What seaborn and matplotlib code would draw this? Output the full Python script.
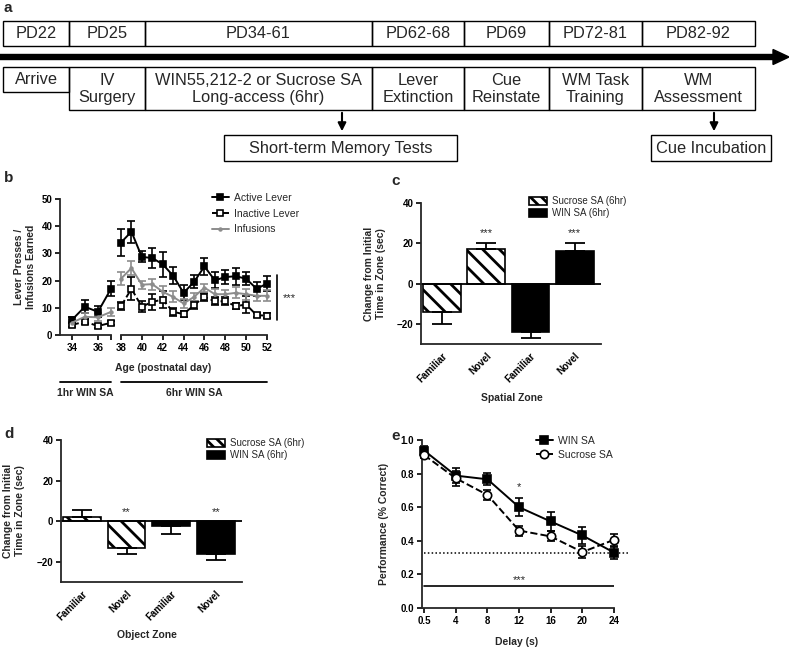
import numpy as np
import pandas as pd
import matplotlib
matplotlib.use('Agg')
import matplotlib.pyplot as plt
from matplotlib.patches import Rectangle, FancyArrow, Patch
import seaborn as sns

# ---- data ----
# a: timeline
stages_top = ['PD22', 'PD25', 'PD34-61', 'PD62-68', 'PD69', 'PD72-81', 'PD82-92']
stages_bottom = ['Arrive', 'IV\nSurgery', 'WIN55,212-2 or Sucrose SA\nLong-access (6hr)',
                 'Lever\nExtinction', 'Cue\nReinstate', 'WM Task\nTraining', 'WM\nAssessment']
box_edges = [3, 69, 145, 372, 464, 549, 642, 755]

# b: self-administration
days = list(range(34, 53))
active = [5.5, 10.4, 8.5, 17, 34, 38, 28.7, 28.3, 26, 21.8, 15.5, 19.5, 25.2, 20.1, 21.3, 21.6, 20.7, 17, 18.9]
active_err = [1, 2.4, 2, 2.7, 5, 4, 2, 3.6, 4.6, 3.2, 2.8, 2.4, 3, 3, 2.5, 3.2, 2.5, 2.5, 2.7]
inactive = [3.7, 4.9, 3.3, 4.5, 10.6, 17, 10.4, 12.2, 13, 8.5, 7.7, 11, 14, 12.4, 12.4, 10.6, 11.2, 7.3, 7.1]
inactive_err = [0.7, 0.8, 0.7, 0.7, 1.5, 4.3, 2, 3, 3, 1.5, 1, 1.5, 1.5, 1.5, 1.5, 1, 3, 0.7, 1]
infusions = [4.5, 6.7, 6.5, 8.5, 20.7, 24.6, 18.5, 18.7, 15.9, 14, 11.6, 14, 17.4, 15, 15, 15.5, 15, 14.4, 14.4]
infusions_err = [1, 1.5, 1.5, 1.5, 2.5, 2.5, 1.5, 2, 2, 2, 1.5, 1.5, 1.5, 2, 1.5, 2, 2, 2, 2]

# c / d: zone tests
zone_labels = ['Familiar', 'Novel', 'Familiar', 'Novel']
groups = ['Sucrose SA (6hr)', 'Sucrose SA (6hr)', 'WIN SA (6hr)', 'WIN SA (6hr)']
spatial_vals = [-14, 17, -24, 16]
spatial_err = [6, 3, 3, 4]
spatial_sig = ['', '***', '', '***']
object_vals = [2, -13.4, -2.4, -16.3]
object_err = [3.5, 3, 4, 2.7]
object_sig = ['', '**', '', '**']

# e: working memory
delays = ['0.5', '4', '8', '12', '16', '20', '24']
win_perf = [0.937, 0.788, 0.766, 0.60, 0.515, 0.432, 0.33]
win_err = [0.03, 0.045, 0.035, 0.055, 0.055, 0.05, 0.036]
suc_perf = [0.91, 0.772, 0.673, 0.461, 0.426, 0.333, 0.406]
suc_err = [0.02, 0.045, 0.03, 0.03, 0.03, 0.035, 0.035]
chance = 0.33

# ---- style ----
sns.set_theme(style='ticks')
plt.rcParams['font.family'] = ['Liberation Sans', 'DejaVu Sans']
plt.rcParams['font.weight'] = 'bold'
plt.rcParams['axes.linewidth'] = 1.3
plt.rcParams['hatch.linewidth'] = 2.0
plt.rcParams['xtick.labelsize'] = 7
plt.rcParams['ytick.labelsize'] = 7

W, H = 789, 648
fig = plt.figure(figsize=(W / 100, H / 100), dpi=100)


def px_axes(x0, y0, x1, y1):
    return fig.add_axes([x0 / W, 1 - y1 / H, (x1 - x0) / W, (y1 - y0) / H])


def ftext(x, y, s, **kw):
    fig.text(x / W, 1 - y / H, s, **kw)


def style(ax):
    sns.despine(ax=ax)
    ax.tick_params(width=1.2, length=3.5, pad=2, colors='black')
    for t in ax.get_xticklabels() + ax.get_yticklabels():
        t.set_fontweight('bold')


# ---- a: timeline ----
tl_size = 11.8
axa = fig.add_axes([0, 1 - 170 / H, 1, 170 / H])
axa.set_xlim(0, W)
axa.set_ylim(170, 0)
axa.axis('off')
for i in range(len(stages_top)):
    x0, x1 = box_edges[i], box_edges[i + 1]
    axa.add_patch(Rectangle((x0, 21), x1 - x0, 25, fill=False, lw=1, ec='black'))
    axa.text((x0 + x1) / 2, 34, stages_top[i], ha='center', va='center', fontsize=tl_size, fontweight='normal')
    h = 25 if i == 0 else 43
    axa.add_patch(Rectangle((x0, 67), x1 - x0, h, fill=False, lw=1, ec='black'))
    axa.text((x0 + x1) / 2, 67 + h / 2 + 0.5, stages_bottom[i], ha='center', va='center',
             fontsize=tl_size, fontweight='normal', linespacing=1.2)
axa.add_patch(FancyArrow(0, 57, 789, 0, width=5, head_width=15, head_length=16,
                         length_includes_head=True, color='black'))
for xa in [342, 714]:
    axa.annotate('', xy=(xa, 134), xytext=(xa, 110),
                 arrowprops=dict(arrowstyle='-|>', lw=1.5, color='black', mutation_scale=12))
axa.add_patch(Rectangle((224, 135), 233, 26, fill=False, lw=1, ec='black'))
axa.text(340.5, 148.5, 'Short-term Memory Tests', ha='center', va='center', fontsize=tl_size, fontweight='normal')
axa.add_patch(Rectangle((651, 135), 120, 26, fill=False, lw=1, ec='black'))
axa.text(711, 148.5, 'Cue Incubation', ha='center', va='center', fontsize=tl_size, fontweight='normal')

# ---- b: lever presses ----
ax1 = px_axes(60, 199, 111, 335)
ax2 = px_axes(121, 199, 267, 335)
series = [('Active Lever', active, active_err, 's', 'black', 'black', '-'),
          ('Inactive Lever', inactive, inactive_err, 's', 'white', 'black', '--'),
          ('Infusions', infusions, infusions_err, '.', '#8c8c8c', '#8c8c8c', '-')]
for ax, lo, hi in [(ax1, 34, 37), (ax2, 38, 52)]:
    idx = [i for i, d in enumerate(days) if lo <= d <= hi]
    xs = [days[i] for i in idx]
    for name, vals, errs, mk, fc, col, ls in series:
        ys = [vals[i] for i in idx]
        es = [errs[i] for i in idx]
        ax.errorbar(xs, ys, yerr=es, fmt='none', ecolor=col, elinewidth=1.2, capsize=3,
                    capthick=1.2, zorder=2, clip_on=False)
        sns.lineplot(x=xs, y=ys, ax=ax, color=col, marker=mk, markersize=5 if mk == 's' else 4,
                     markerfacecolor=fc, markeredgecolor=col, markeredgewidth=1.2,
                     linestyle=ls, linewidth=1.4, errorbar=None, label=name, zorder=3,
                     clip_on=False, legend=False)
    ax.set_ylim(0, 50)
ax1.set_xlim(33.1, 37.0)
ax2.set_xlim(38, 52)
ax1.set_xticks([34, 36, 37], ['34', '36', ''])
ax2.set_xticks(range(38, 53, 2))
ax1.set_yticks(range(0, 51, 10))
ax2.set_yticks([])
style(ax1)
style(ax2)
ax2.spines['left'].set_visible(False)
ax2.plot([52.95, 52.95], [5.5, 22], color='black', lw=1.2, clip_on=False)
ax2.text(53.5, 13.5, '***', ha='left', va='center', fontsize=8, fontweight='normal')
for ax, lab in [(ax1, '1hr WIN SA'), (ax2, '6hr WIN SA')]:
    ax.plot([0, 1], [-0.346, -0.346], transform=ax.transAxes, color='black', lw=1.3, clip_on=False)
    ax.text(0.5, -0.43, lab, transform=ax.transAxes, ha='center', va='center', fontsize=7.5)
h, l = ax2.get_legend_handles_labels()
fig.legend(h, l, loc='upper left', bbox_to_anchor=(212 / W, 1 - 193 / H), frameon=False,
           prop={'weight': 'normal', 'size': 7.5}, borderaxespad=0, borderpad=0,
           handlelength=1.6, handletextpad=0.5, labelspacing=0.55)
ftext(25, 267, 'Lever Presses /\nInfusions Earned', rotation=90, ha='center', va='center',
      fontsize=7.5, multialignment='center')
ftext(163, 368, 'Age (postnatal day)', ha='center', va='center', fontsize=7.5)


# ---- c / d: bar panels ----
def zone_panel(box, vals, errs, sig, sig_y, xlabel, xlab_pos, ylab_x, leg_pos):
    ax = px_axes(*box)
    sns.barplot(x=list(range(len(vals))), y=vals, hue=groups,
                palette={'Sucrose SA (6hr)': 'white', 'WIN SA (6hr)': 'black'},
                dodge=False, width=0.85, edgecolor='black', linewidth=1.2,
                errorbar=None, legend=False, ax=ax)
    for bar in ax.containers[0]:
        bar.set_hatch('\\\\')
    lower = [e if v < 0 else 0 for v, e in zip(vals, errs)]
    upper = [e if v >= 0 else 0 for v, e in zip(vals, errs)]
    ax.errorbar(range(len(vals)), vals, yerr=[lower, upper], fmt='none', ecolor='black',
                elinewidth=1.3, capsize=7, capthick=1.3, zorder=1)
    ax.axhline(0, color='black', lw=1.3)
    for i, s in enumerate(sig):
        if s:
            ax.text(i, sig_y, s, ha='center', va='center', fontsize=8, fontweight='normal')
    ax.set_xlim(-0.47, 3.59)
    ax.set_ylim(-30, 40)
    ax.set_yticks([-20, 0, 20, 40])
    ax.set_xticks(range(4))
    ax.set_xticklabels(zone_labels, rotation=45, ha='right', rotation_mode='anchor')
    style(ax)
    ax.tick_params(axis='x', length=0, pad=5)
    ftext(xlab_pos[0], xlab_pos[1], xlabel, ha='center', va='center', fontsize=7.5)
    ftext(ylab_x, (box[1] + box[3]) / 2, 'Change from Initial\nTime in Zone (sec)', rotation=90,
          ha='center', va='center', fontsize=7.5, multialignment='center')
    handles = [Patch(facecolor='white', edgecolor='black', hatch='\\\\\\', lw=1.2),
               Patch(facecolor='black', edgecolor='black', lw=1.2)]
    fig.legend(handles, ['Sucrose SA (6hr)', 'WIN SA (6hr)'], loc='upper left',
               bbox_to_anchor=(leg_pos[0] / W, 1 - leg_pos[1] / H), frameon=False,
               prop={'weight': 'normal', 'size': 7}, borderaxespad=0, borderpad=0,
               handlelength=1.8, handleheight=0.9, handletextpad=0.6, labelspacing=0.2)
    return ax


zone_panel((421, 203, 601, 344), spatial_vals, spatial_err, spatial_sig, 25,
           'Spatial Zone', (512, 398), 375, (529, 196))
zone_panel((61, 440, 242, 582), object_vals, object_err, object_sig, 4.5,
           'Object Zone', (147, 635), 14, (207, 438))

# ---- e: working memory ----
axe = px_axes(422, 440, 614, 608)
xpos = np.arange(len(delays))
axe.plot([0, 6.5], [chance, chance], color='black', lw=1.1, ls=(0, (1, 1.5)), clip_on=False)
axe.plot([0, 6], [0.13, 0.13], color='black', lw=1.2)
axe.text(3, 0.135, '***', ha='center', va='bottom', fontsize=8, fontweight='normal')
for name, vals, errs, mk, fc, ls in [('WIN SA', win_perf, win_err, 's', 'black', '-'),
                                      ('Sucrose SA', suc_perf, suc_err, 'o', 'white', '--')]:
    axe.errorbar(xpos, vals, yerr=errs, fmt='none', ecolor='black', elinewidth=1.2, capsize=3,
                 capthick=1.2, zorder=2, clip_on=False)
    sns.lineplot(x=xpos, y=vals, ax=axe, color='black', marker=mk, markersize=6,
                 markerfacecolor=fc, markeredgecolor='black', markeredgewidth=1.2,
                 linestyle=ls, linewidth=1.4, errorbar=None, label=name, zorder=3,
                 clip_on=False, legend=False)
axe.text(3, 0.72, '*', ha='center', va='center', fontsize=8, fontweight='normal')
axe.set_xlim(-0.07, 6.0)
axe.set_ylim(0, 1.0)
axe.set_xticks(xpos)
axe.set_xticklabels(delays)
axe.set_yticks(np.arange(0, 1.01, 0.2))
axe.set_yticklabels(['0.0', '0.2', '0.4', '0.6', '0.8', '1.0'])
style(axe)
h, l = axe.get_legend_handles_labels()
fig.legend(h, l, loc='upper left', bbox_to_anchor=(536 / W, 1 - 436 / H), frameon=False,
           prop={'weight': 'normal', 'size': 7.5}, borderaxespad=0, borderpad=0,
           handlelength=1.6, handletextpad=0.5, labelspacing=0.35)
ftext(384, 524, 'Performance (% Correct)', rotation=90, ha='center', va='center', fontsize=7.5)
ftext(517, 642, 'Delay (s)', ha='center', va='center', fontsize=7.5)

# panel letters
for lab, x, y in [('a', 4, 8), ('b', 4, 178), ('c', 391, 181), ('d', 4, 434), ('e', 391, 436)]:
    ftext(x, y, lab, ha='left', va='center', fontsize=11)

fig.savefig('out.png', dpi=100)
